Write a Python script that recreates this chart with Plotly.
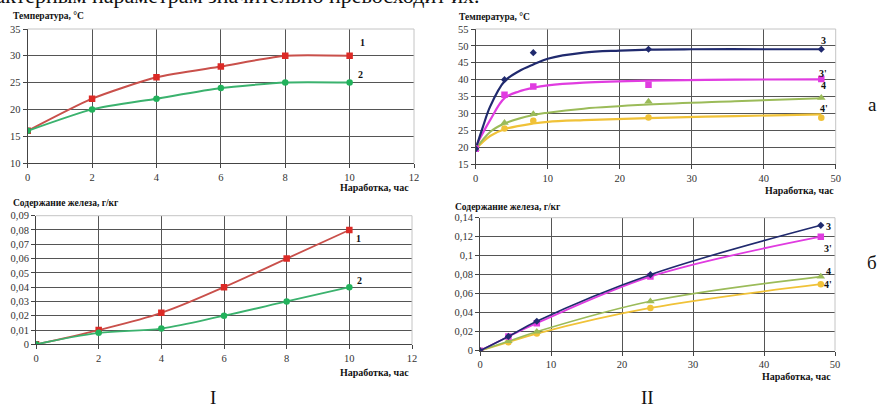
import plotly.graph_objects as go

W, H = 877, 409

# ---------- data ----------
# Panel I: run-in time 0..10 h
hours_I = [0, 2, 4, 6, 8, 10]
temp_1 = [16, 22, 26, 28, 30, 30]
temp_2 = [16, 20, 22, 24, 25, 25]
iron_1 = [0, 0.01, 0.022, 0.04, 0.06, 0.08]
iron_2 = [0, 0.008, 0.011, 0.02, 0.03, 0.04]

# Panel II: run-in time 0..48 h (measured points)
hours_II = [0, 4, 8, 24, 48]
temp_3 = [19.5, 40, 48, 49, 49]
temp_3p = [19.5, 35.5, 38, 38.5, 40.2]
temp_4 = [19.5, 27.2, 29.8, 33.5, 34.6]
temp_4p = [19.5, 25.5, 27.8, 28.8, 28.7]

# Panel II temperature trend curves
trend_3_x = [0, 1, 2, 4, 6, 8, 10, 15, 20, 24, 30, 40, 48]
trend_3_y = [19.5, 26, 32, 39.5, 42.5, 44.5, 46.2, 48, 48.6, 48.9, 49, 49, 49]
trend_3p_x = [0, 0.6, 2, 4, 6, 8, 10, 15, 24, 36, 48]
trend_3p_y = [20, 22.6, 28, 34.5, 36.5, 37.6, 38.3, 39.1, 39.7, 40, 40.1]
trend_4_x = [0, 2, 4, 8, 10, 15, 24, 36, 48]
trend_4_y = [19.5, 24.5, 27, 29.5, 30.2, 31.4, 32.6, 33.6, 34.5]
trend_4p_x = [0, 2, 4, 8, 10, 15, 24, 36, 48]
trend_4p_y = [19.5, 23.3, 25.3, 27, 27.5, 28, 28.6, 29.2, 29.7]

iron_3 = [0, 0.015, 0.031, 0.08, 0.132]
iron_3p = [0, 0.015, 0.029, 0.078, 0.12]
iron_4 = [0, 0.01, 0.02, 0.052, 0.078]
iron_4p = [0, 0.009, 0.018, 0.045, 0.07]

# ticks
ticks_x_I = [0, 2, 4, 6, 8, 10, 12]
ticks_x_II = [0, 10, 20, 30, 40, 50]
ticks_temp_I = [10, 15, 20, 25, 30, 35]
ticks_temp_II = [15, 20, 25, 30, 35, 40, 45, 50, 55]
ticks_iron_I = [0, 0.01, 0.02, 0.03, 0.04, 0.05, 0.06, 0.07, 0.08, 0.09]
labels_iron_I = ["0", "0,01", "0,02", "0,03", "0,04", "0,05", "0,06", "0,07", "0,08", "0,09"]
ticks_iron_II = [0, 0.02, 0.04, 0.06, 0.08, 0.1, 0.12, 0.14]
labels_iron_II = ["0", "0,02", "0,04", "0,06", "0,08", "0,1", "0,12", "0,14"]

# ---------- styling ----------
RED_LINE, RED_MK = "#c9504b", "#dc2a26"
GRN_LINE, GRN_MK = "#3bb26e", "#22b25c"
NAVY = "#202a6e"
MAG = "#e03ce0"
OLIVE = "#9bbb59"
YEL = "#f0c238"
SERIF = "Liberation Serif"
GRID = "#555555"


def xdom(a, b):
    return [a / W, b / W]


def ydom(top, bottom):
    return [1 - bottom / H, 1 - top / H]


fig = go.Figure()


def add(xs, ys, ax, color, width=2, mode="lines", marker=None, smoothing=1.0):
    kw = dict(x=xs, y=ys, xaxis="x" + ax, yaxis="y" + ax, mode=mode,
              line=dict(color=color, width=width, shape="spline", smoothing=smoothing),
              showlegend=False, hoverinfo="skip")
    if marker:
        kw["marker"] = marker
    fig.add_trace(go.Scatter(**kw))


# Panel I, temperature (axis "")
add(hours_I, temp_1, "", RED_LINE, 2, "lines+markers",
    dict(symbol="square", size=6.5, color=RED_MK), smoothing=0.6)
add(hours_I, temp_2, "", GRN_LINE, 2, "lines+markers",
    dict(symbol="circle", size=6.5, color=GRN_MK), smoothing=0.6)

# Panel II, temperature (axis "2")
add(trend_4p_x, trend_4p_y, "2", YEL, 2.2)
add(trend_4_x, trend_4_y, "2", OLIVE, 2)
add(trend_3p_x, trend_3p_y, "2", MAG, 2.2)
add(trend_3_x, trend_3_y, "2", NAVY, 2.2)
add(hours_II, temp_4p, "2", YEL, mode="markers", marker=dict(symbol="circle", size=6.5, color=YEL))
add(hours_II, temp_4, "2", OLIVE, mode="markers", marker=dict(symbol="triangle-up", size=7.5, color=OLIVE))
add(hours_II, temp_3p, "2", MAG, mode="markers", marker=dict(symbol="square", size=6.5, color=MAG))
add(hours_II, temp_3, "2", NAVY, mode="markers", marker=dict(symbol="diamond", size=5.5, color=NAVY))

# Panel I, iron content (axis "3")
add(hours_I, iron_1, "3", RED_LINE, 1.8, "lines+markers",
    dict(symbol="square", size=6.5, color=RED_MK))
add(hours_I, iron_2, "3", GRN_LINE, 1.8, "lines+markers",
    dict(symbol="circle", size=6.5, color=GRN_MK))

# Panel II, iron content (axis "4")
add(hours_II, iron_4p, "4", YEL, 1.8, "lines+markers", dict(symbol="circle", size=6.5, color=YEL))
add(hours_II, iron_4, "4", OLIVE, 1.6, "lines+markers", dict(symbol="triangle-up", size=7.5, color=OLIVE))
add(hours_II, iron_3p, "4", MAG, 1.8, "lines+markers", dict(symbol="square", size=6.5, color=MAG))
add(hours_II, iron_3, "4", NAVY, 1.6, "lines+markers", dict(symbol="diamond", size=5.5, color=NAVY))

tickfont = dict(family=SERIF, size=10.5, color="#333")


def axis(dom, rng, ticks, labels, anchor):
    return dict(domain=dom, range=rng, tickvals=ticks, ticktext=labels,
                showgrid=True, gridcolor=GRID, gridwidth=1, zeroline=False,
                showline=True, linecolor="#444", linewidth=1, ticks="outside",
                ticklen=4, tickcolor="#444", tickfont=tickfont, anchor=anchor,
                automargin=False, fixedrange=True)


fig.update_layout(
    width=W, height=H, margin=dict(l=0, r=0, t=0, b=0),
    template="none", paper_bgcolor="white", plot_bgcolor="white",
    xaxis=axis(xdom(27.7, 414), [0, 12], ticks_x_I, [str(t) for t in ticks_x_I], "y"),
    yaxis=axis(ydom(29, 163), [10, 35], ticks_temp_I, [str(t) for t in ticks_temp_I], "x"),
    xaxis2=axis(xdom(475.7, 835.7), [0, 50], ticks_x_II, [str(t) for t in ticks_x_II], "y2"),
    yaxis2=axis(ydom(29, 164), [15, 55], ticks_temp_II, [str(t) for t in ticks_temp_II], "x2"),
    xaxis3=axis(xdom(36, 412), [0, 12], ticks_x_I, [str(t) for t in ticks_x_I], "y3"),
    yaxis3=axis(ydom(215.7, 344.3), [0, 0.09], ticks_iron_I, labels_iron_I, "x3"),
    xaxis4=axis(xdom(480, 835), [0, 50], ticks_x_II, [str(t) for t in ticks_x_II], "y4"),
    yaxis4=axis(ydom(217.7, 350.7), [0, 0.14], ticks_iron_II, labels_iron_II, "x4"),
)

# light frame on the top and right edges of every plot area
for ax in ["", "2", "3", "4"]:
    for x0, y0, x1, y1 in [(0, 1, 1, 1), (1, 0, 1, 1)]:
        fig.add_shape(type="line", xref=f"x{ax} domain", yref=f"y{ax} domain",
                      x0=x0, y0=y0, x1=x1, y1=y1, layer="above",
                      line=dict(color="#c4c4c4", width=1))


def px_note(text, x, y, size=10, bold=False, xanchor="left", yanchor="middle", family=SERIF):
    fig.add_annotation(text=f"<b>{text}</b>" if bold else text,
                       xref="paper", yref="paper", x=x / W, y=1 - y / H,
                       xanchor=xanchor, yanchor=yanchor, showarrow=False,
                       font=dict(family=family, size=size, color="#111"))


# running text line, partly above the top edge of the page
px_note("характерным параметрам значительно превосходит их.", 482, -4, size=22,
        xanchor="right")

# axis captions
px_note("Температура, °C", 11, 16, size=9.5, bold=True)
px_note("Температура, °C", 457, 17, size=9.5, bold=True)
px_note("Содержание железа, г/кг", 11, 203, size=9.5, bold=True)
px_note("Содержание железа, г/кг", 453, 207, size=9.5, bold=True)
px_note("Наработка, час", 411, 187, size=10, bold=True, xanchor="right")
px_note("Наработка, час", 836, 190, size=10, bold=True, xanchor="right")
px_note("Наработка, час", 411, 372, size=10, bold=True, xanchor="right")
px_note("Наработка, час", 833, 376, size=10, bold=True, xanchor="right")

# curve numbers
for txt, x, y in [("1", 362, 43), ("2", 360, 74), ("1", 358, 238), ("2", 359, 280),
                  ("3", 823, 41), ("3'", 823, 73), ("4", 823, 86), ("4'", 824, 108),
                  ("3", 828, 227), ("3'", 828, 248), ("4", 828, 271), ("4'", 828, 284)]:
    px_note(txt, x, y, size=10, bold=True, xanchor="center")

# panel letters
px_note("а", 872, 104, size=19, xanchor="center")
px_note("б", 872, 262, size=19, xanchor="center")
px_note("I", 213, 397, size=19, xanchor="center")
px_note("II", 647, 397, size=19, xanchor="center")

fig.write_html("out.html")
